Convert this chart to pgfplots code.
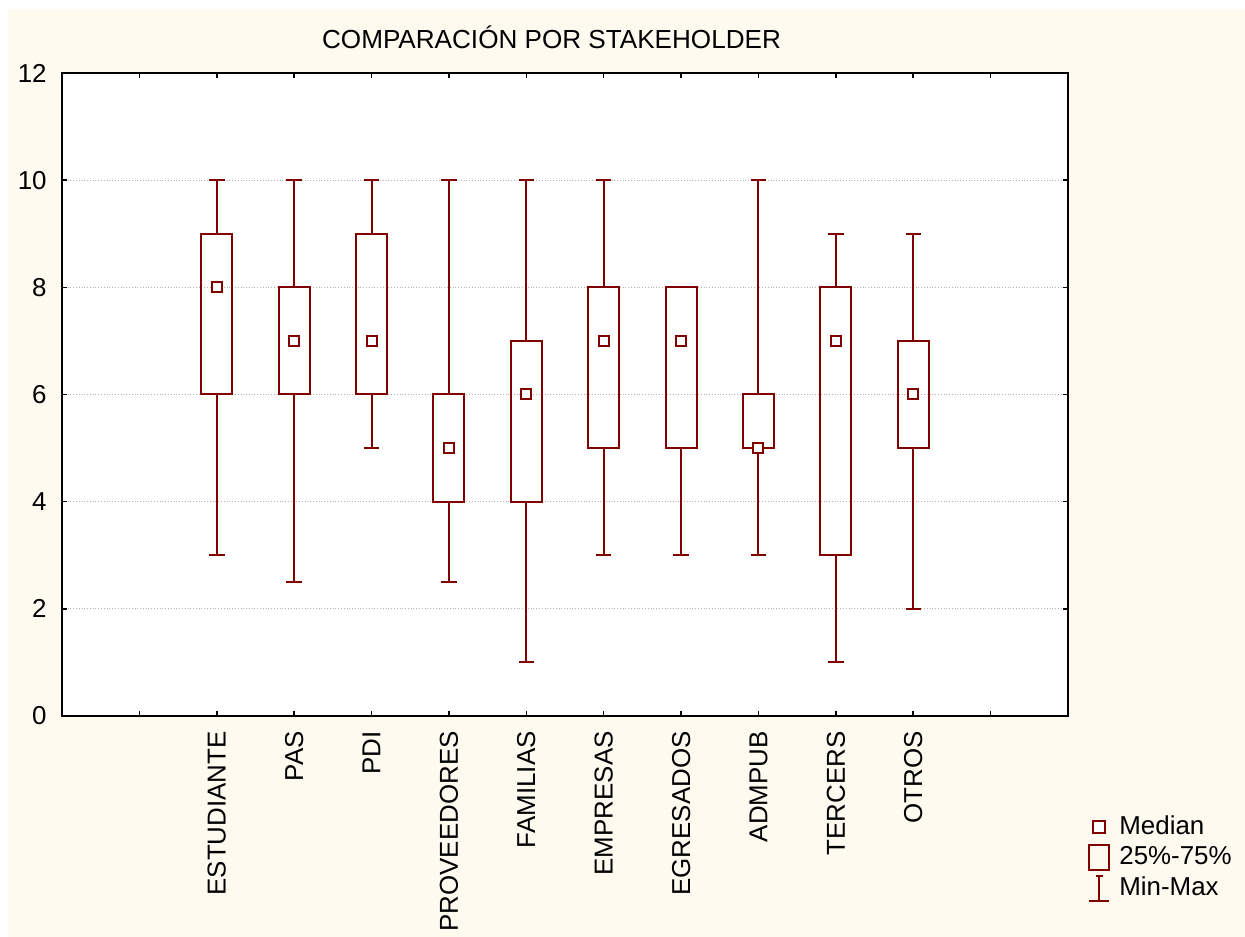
\documentclass[border=0pt]{standalone}
\usepackage{fontspec}
\setmainfont{Liberation Sans}
\usepackage{pgfplots}
\pgfplotsset{compat=1.18}
\usepgfplotslibrary{statistics}

\definecolor{boxcol}{RGB}{128,0,0}
\definecolor{bgcream}{RGB}{254,250,240}

% min, q1, median, q3, max per stakeholder
\newcommand{\bx}[6]{%
  \addplot[draw=boxcol, line width=1bp, forget plot,
    boxplot prepared={draw position=#1, lower whisker=#2, lower quartile=#3,
      median=#4, upper quartile=#5, upper whisker=#6,
      box extend=0.4, whisker extend=0.2}] coordinates {};}

\begin{document}
\begin{tikzpicture}
\fill[white] (0,0) rectangle (622.5bp,468.5bp);
\path[use as bounding box] (0,0) rectangle (622.5bp,468.5bp);
\fill[bgcream] (4bp,0) rectangle (622.5bp,464bp);
\begin{axis}[
  at={(31bp,110.5bp)}, anchor=south west,
  scale only axis, width=503bp, height=321.5bp,
  axis background/.style={fill=white},
  axis line style={black, line width=1bp},
  xmin=0, xmax=13, ymin=0, ymax=12,
  xtick={1,...,12},
  xticklabels={,ESTUDIANTE,PAS,PDI,PROVEEDORES,FAMILIAS,EMPRESAS,EGRESADOS,ADMPUB,TERCERS,OTROS,},
  ytick={0,2,...,12},
  tick pos=both, tick align=inside,
  major tick length=2.5bp,
  tick style={black, line width=0.8bp},
  ymajorgrids, grid style={densely dotted, gray!60, line width=0.4bp},
  /pgf/number format/assume math mode=true,
  ticklabel style={font=\fontsize{13}{15.6}\selectfont},
  x tick label style={rotate=90, anchor=east, inner sep=0pt},
  y tick label style={inner sep=0pt},
  xticklabel shift=7.5bp, yticklabel shift=7.5bp,
  boxplot/draw direction=y,
  boxplot/draw/median/.code={%
    \node[draw=boxcol, line width=1bp, fill=white, minimum size=5bp, inner sep=0pt]
      at (boxplot box cs:\pgfplotsboxplotvalue{median},0.5) {};},
  legend style={at={(axis description cs:1,0)}, anchor=north west,
    xshift=7bp, yshift=-47bp, draw=none, fill=none,
    font=\fontsize{13}{15.6}\selectfont,
    nodes={inner sep=0pt, text height=10bp, text depth=3bp},
    row sep=2bp, column sep=4.5bp},
  legend cell align=left,
]
\bx{2}{3}{6}{8}{9}{10}
\bx{3}{2.5}{6}{7}{8}{10}
\bx{4}{5}{6}{7}{9}{10}
\bx{5}{2.5}{4}{5}{6}{10}
\bx{6}{1}{4}{6}{7}{10}
\bx{7}{3}{5}{7}{8}{10}
\bx{8}{3}{5}{7}{8}{8}
\bx{9}{3}{5}{5}{6}{10}
\bx{10}{1}{3}{7}{8}{9}
\bx{11}{2}{5}{6}{7}{9}

\addlegendimage{legend image code/.code={
  \draw[boxcol, line width=1bp, fill=white] (4bp,-3bp) rectangle (10bp,3bp);}}
\addlegendentry{Median}
\addlegendimage{legend image code/.code={
  \draw[boxcol, line width=1bp] (2bp,-6.25bp) rectangle (12bp,6.25bp);}}
\addlegendentry{25\%-75\%}
\addlegendimage{legend image code/.code={
  \draw[boxcol, line width=1bp] (2bp,-6.25bp) -- (12bp,-6.25bp)
    (7bp,-6.25bp) -- (7bp,6.25bp) (5.25bp,6.25bp) -- (8.75bp,6.25bp);}}
\addlegendentry{Min-Max}
\end{axis}
\node[anchor=base, font=\fontsize{13.1}{15.7}\selectfont] at (275.75bp,444bp)
  {COMPARACIÓN POR STAKEHOLDER};
\end{tikzpicture}
\end{document}
